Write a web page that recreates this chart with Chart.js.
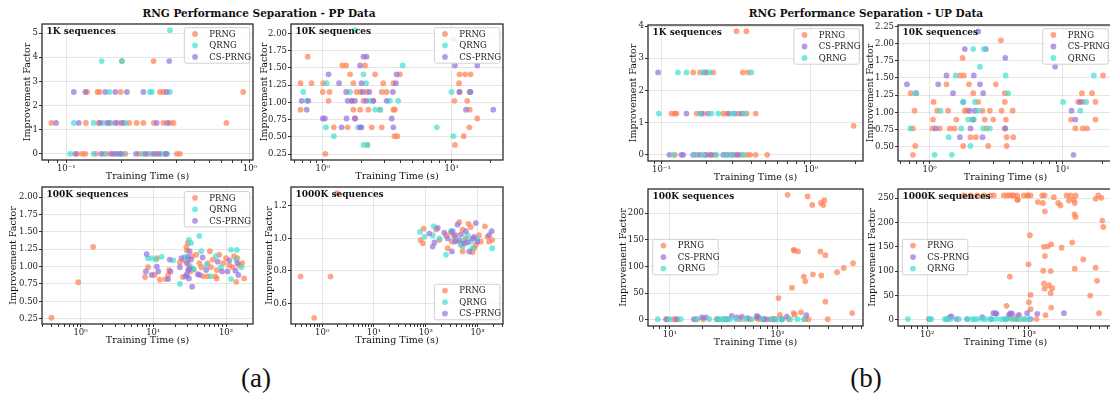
<!DOCTYPE html>
<html>
<head>
    <script src="https://cdn.jsdelivr.net/npm/chart.js@4.4.0/dist/chart.umd.min.js"></script>
    <style>
    body {
        margin: 0;
        background: #fff;
        width: 1110px;
        height: 396px;
        overflow: hidden;
        position: relative;
        font-family: "DejaVu Serif", serif;
    }
    .suptitle {
        position: absolute;
        transform: translate(-50%, -50%);
        font-weight: bold;
        font-size: 10.5px;
        color: #111;
        white-space: nowrap;
    }
    .sub {
        position: absolute;
        transform: translate(-50%, -50%);
        font-family: "Liberation Serif", serif;
        font-size: 27px;
        color: #111;
    }
    .box { position: absolute; }
    </style>
    <title>RNG Performance Separation</title>
</head>
<body>

<div class="suptitle" style="left:259px; top:13px;">RNG Performance Separation - PP Data</div>
<div class="suptitle" style="left:866px; top:13px;">RNG Performance Separation - UP Data</div>
<div class="sub" style="left:256px; top:378px;">(a)</div>
<div class="sub" style="left:866px; top:378px;">(b)</div>

<script>
// ---- data: [training time (s), improvement factor] ----
// PP data
const pp1kPRNG = [[0.083,1.28],[0.128,1.28],[0.150,1.28],[0.172,1.28],[0.190,1.28],[0.205,1.28],[0.220,1.28],[0.242,1.28],[0.263,1.28],[0.300,1.28],[0.338,1.28],[0.367,1.28],[0.384,1.28],[0.745,1.28],
    [0.130,2.56],[0.148,2.56],[0.152,2.56],[0.198,2.56],[0.324,2.56],[0.338,2.56],[0.920,2.56],[0.201,3.84],[0.299,3.84],
    [0.115,0],[0.122,0],[0.127,0],[0.145,0],[0.165,0],[0.180,0],[0.195,0],[0.210,0],[0.250,0],[0.280,0],[0.310,0],[0.345,0],[0.400,0],[0.416,0]];
const pp1kQRNG = [[0.110,1.28],[0.141,1.28],[0.160,1.28],[0.175,1.28],[0.210,1.28],[0.172,2.56],[0.286,2.56],[0.292,2.56],[0.367,2.56],
    [0.156,3.84],[0.201,3.84],[0.367,5.12],[0.105,0],[0.141,0],[0.160,0],[0.190,0],[0.205,0],[0.262,0],[0.290,0],[0.330,0],[0.355,0]];
const pp1kCS = [[0.088,1.28],[0.117,1.28],[0.153,1.28],[0.168,1.28],[0.185,1.28],[0.200,1.28],[0.311,1.28],[0.355,1.28],
    [0.110,2.56],[0.127,2.56],[0.163,2.56],[0.185,2.56],[0.214,2.56],[0.263,2.56],[0.352,2.56],[0.364,3.84],
    [0.112,0],[0.155,0],[0.175,0],[0.185,0],[0.198,0],[0.240,0],[0.270,0],[0.300,0],[0.320,0],[0.350,0]];

const pp10kPRNG = [[0.765,1.664],[0.673,1.28],[0.82,1.28],[1.01,1.28],[1.42,1.536],[1.52,1.536],[1.63,1.408],[1.73,1.28],[2.13,1.536],[2.55,1.408],[2.95,1.28],[3.53,1.28],[3.97,1.408],
    [1.0,1.152],[1.13,1.152],[1.83,1.152],[1.95,1.152],[2.19,1.152],[2.87,1.152],[3.13,1.152],[1.11,1.024],[1.68,1.024],[2.07,1.024],[2.47,1.024],
    [0.673,0.896],[1.73,0.896],[1.95,0.896],[2.26,0.896],[2.78,0.896],[3.53,0.896],[3.63,0.896],[1.78,0.768],[1.22,0.64],[1.56,0.64],[2.4,0.64],[2.87,0.64],
    [3.6,0.512],[3.79,0.512],[2.22,0.384],[1.05,0.256],[10.3,1.92],[11.5,1.408],[12.7,1.408],[14.0,1.408],[11.4,1.28],[11.5,1.152],[13.8,1.152],
    [10.5,1.024],[13.2,1.024],[13.8,0.896],[15.8,0.768],[13.7,0.64],[12.4,0.512],[10.6,0.384]];
const pp10kQRNG = [[0.708,1.152],[1.074,1.28],[1.06,0.64],[1.22,0.512],[1.63,1.152],[1.88,0.64],[2.07,1.408],[2.07,0.384],[2.22,0.384],[1.78,2.048],
    [2.33,1.024],[2.55,0.896],[2.8,0.896],[3.32,1.024],[3.85,1.024],[4.17,1.536],[2.17,1.28],[7.66,0.64],[9.97,1.152],[10.3,0.512],[13.8,1.152],[0.752,1.024]];
const pp10kCS = [[1.11,1.408],[1.34,1.28],[1.52,1.152],[1.56,1.024],[1.68,1.024],[1.78,1.024],[1.95,1.536],[2.0,1.28],[2.07,1.664],[2.19,1.664],[2.04,1.152],
    [2.17,1.024],[2.3,1.152],[2.47,1.024],[3.13,1.024],[3.5,1.152],[3.74,1.408],[3.7,1.28],[3.43,0.768],[3.53,0.64],[1.53,0.768],[1.78,0.768],[1.95,0.64],
    [2.0,0.64],[1.0,0.768],[1.04,0.768],[1.4,0.64],[0.752,0.896],[0.687,1.024],[0.774,1.024],[10.6,1.536],[15.8,1.536],[11.5,1.152],[14.0,1.152],[12.9,0.896],[21.0,0.896]];

const pp100kPRNG = [[0.398,0.264],[0.93,0.774],[1.49,1.284],[7.7,0.85],[8.5,0.99],[10.4,0.88],[12.3,0.81],[11.2,1.12],[14.7,0.82],[16,0.88],[16.5,0.95],[23.2,1.06],
    [25.6,0.85],[27,1.09],[28.5,1.28],[29,1.23],[29.9,1.34],[30.9,1.02],[32.5,0.93],[34.2,1.15],[35.8,0.96],[39,1.17],[43,1.05],[45.6,0.99],[48.9,0.86],[56,1.05],
    [60,1.22],[62,0.99],[65.8,1.10],[71.5,0.86],[74.6,0.95],[81,1.17],[91.7,1.05],[100,1.12],[111,1.02],[123,0.99],[129,1.15],[138,0.78],[143,1.12],[152,1.02],
    [167,1.05],[178,0.83],[74.6,0.83],[56,0.86]];
const pp100kQRNG = [[8.4,1.12],[9.5,1.12],[10.9,1.10],[13,1.14],[18.8,1.09],[23.2,0.75],[27,1.14],[30.9,1.385],[33,1.34],[36,0.96],[43,1.44],[45.6,1.22],
    [53.4,1.02],[62,0.86],[72.7,1.15],[85,0.99],[117,1.24],[117,0.82],[141,1.24],[163,0.99],[138,1.10],[29.9,1.10],[33,0.99]];
const pp100kCS = [[8.1,1.18],[7.9,0.93],[9.5,0.88],[11.2,1.0],[11.7,0.93],[16,0.82],[16.8,1.10],[17.2,0.93],[23.2,0.99],[24.4,1.12],[27.9,0.86],[29,1.05],
    [29.9,1.14],[30.9,0.83],[31.6,1.22],[31.6,0.97],[33,1.10],[34.2,0.71],[40.9,0.89],[47.8,1.13],[53.4,0.95],[43.3,0.88],[77,1.07],[88,0.93],[105,0.93],
    [111,1.09],[135,0.94],[143,1.05],[148,0.88],[30,0.95],[29,0.89]];

const pp1000kPRNG = [[0.383,0.765],[0.70,0.511],[1.45,0.765],[1.94,1.279],[79,0.99],[88,0.97],[91,1.06],[158,1.055],[184,0.99],[246,1.02],[265,0.94],[320,0.98],
    [380,1.02],[443,1.10],[477,0.96],[514,1.055],[594,1.0],[670,1.09],[740,1.07],[797,0.915],[860,0.94],[924,0.96],[1070,1.02],[1150,0.98],[1390,1.075],
    [1550,1.01],[1670,0.98],[1920,0.99],[306,1.035],[514,0.92]];
const pp1000kQRNG = [[77,1.04],[94,1.01],[142,1.075],[136,1.02],[184,1.0],[246,0.90],[306,1.045],[380,0.99],[477,0.97],[514,0.95],[640,1.02],[740,0.98],
    [797,0.94],[990,0.995],[1920,0.94],[550,0.99]];
const pp1000kCS = [[117,1.03],[136,0.95],[147,0.975],[170,1.065],[228,1.035],[265,1.0],[320,0.92],[330,1.045],[370,0.98],[410,1.085],[443,0.99],[477,1.025],
    [550,0.97],[594,1.045],[640,0.975],[690,0.92],[797,1.0],[860,1.01],[924,1.095],[990,0.98],[1670,1.02],[1870,1.045],[355,1.015]];

// UP data
const up1kPRNG = [[0.318,3.84],[0.37,3.84],[0.163,2.56],[0.181,2.56],[0.2,2.56],[0.222,2.56],[0.35,2.56],[0.38,2.56],[0.117,1.28],[0.123,1.28],[0.126,1.28],
    [0.172,1.28],[0.19,1.28],[0.259,1.28],[0.273,1.28],[0.327,1.28],[0.372,1.28],[0.427,1.28],[1.93,0.9],[0.123,0],[0.172,0],[0.195,0],[0.211,0],[0.228,0],
    [0.287,0],[0.318,0],[0.344,0],[0.372,0],[0.392,0],[0.427,0],[0.51,0]];
const up1kCS = [[0.095,2.56],[0.195,2.56],[0.147,1.28],[0.185,1.28],[0.205,1.28],[0.284,1.28],[0.308,1.28],[0.344,1.28],[0.113,0],[0.136,0],[0.14,0],
    [0.163,0],[0.181,0],[0.2,0],[0.216,0],[0.259,0],[0.273,0],[0.303,0],[0.327,0]];
const up1kQRNG = [[0.096,1.28],[0.129,2.56],[0.147,2.56],[0.19,2.56],[0.211,2.56],[0.40,2.56],[0.181,1.28],[0.216,1.28],[0.24,1.28],[0.303,1.28],[0.357,1.28],
    [0.12,0],[0.168,0],[0.19,0],[0.234,0],[0.268,0],[0.295,0],[0.353,0]];

const up10kPRNG = [[0.748,0.768],[0.77,1.024],[0.72,1.28],[0.78,0.512],[0.748,0.384],[1.06,0.896],[1.05,0.768],[1.07,1.152],[1.14,1.024],[1.19,0.768],
    [1.34,1.408],[1.38,1.024],[1.42,0.768],[1.54,0.768],[1.59,0.896],[1.69,1.536],[1.77,1.792],[1.81,1.536],[1.84,1.024],[1.79,0.512],[1.98,1.408],[2.03,0.64],
    [2.13,1.28],[2.23,0.64],[2.15,0.896],[2.32,1.152],[2.5,1.024],[2.6,0.896],[2.68,0.768],[2.76,0.512],[2.84,1.024],[3.01,0.896],[3.15,1.408],[3.44,2.048],
    [3.48,1.024],[3.68,1.28],[3.68,1.152],[3.75,0.896],[3.8,0.64],[3.8,0.512],[4.22,1.024],[4.26,0.64],[3.68,0.768],[1.91,1.024],
    [14.0,1.28],[16.7,1.28],[20.2,1.536],[13.1,1.152],[14.2,1.152],[17.7,1.152],[11.6,0.896],[17.7,0.896],[12.5,0.768],[14.2,0.768],[15.3,0.768]];
const up10kCS = [[0.675,1.408],[0.793,1.28],[1.11,0.768],[1.16,1.408],[1.34,1.536],[1.5,1.28],[1.69,0.64],[1.79,1.152],[1.84,1.92],[2.0,1.024],[2.1,0.896],
    [2.15,1.536],[2.03,0.768],[2.39,1.408],[2.53,1.28],[2.5,0.64],[2.65,1.92],[2.32,2.176],[3.71,1.792],[3.71,0.768],[2.19,1.024],[8.8,1.664],
    [11.7,1.024],[12.5,0.896],[12.1,0.384],[13.6,1.152]];
const up10kQRNG = [[0.715,0.768],[0.78,1.28],[1.09,0.384],[1.21,1.024],[1.39,0.64],[1.47,0.384],[1.57,1.536],[1.73,0.768],[1.79,1.152],[1.95,0.896],
    [2.03,0.512],[2.13,1.92],[2.13,0.896],[2.19,1.152],[2.39,1.664],[2.32,1.024],[2.53,0.768],[2.56,1.92],[2.84,0.768],[3.73,1.536],[3.9,1.28],
    [10.1,1.152],[13.6,1.024],[17.2,1.536],[15.1,1.152]];

const up100kPRNG = [[124,234],[190,231],[210,215],[253,219],[272,224],[266,215],[141,131],[143,130],[155,128],[250,128],[278,121],[136,60],[175,81],[181,72],
    [213,85],[255,83],[357,89],[412,97],[503,106],[102,40.6],[278,34],[494,12.5],[292,1.2],[105,9],[141,12.5],[144,9.4],[165,14],[9.4,1],[10.7,1],[11.7,1],
    [17.5,1],[20.4,1],[27.2,1],[31.4,1],[34.2,1],[44.8,1],[54.9,1],[64,3],[66.5,1],[74,1],[85.5,1],[90.6,1],[95,1],[110,1],[127,1],[181,1],[194,1]];
const up100kCS = [[9.2,1],[11.4,1],[16.7,1],[19.8,4.4],[21.6,4.4],[28.2,1],[37.5,7.5],[41.8,4.4],[46.6,6],[52.5,3],[64.1,7.5],[66.5,5],[78.4,1],[91.7,1],
    [110,1],[122,6],[185,8.8],[74,1],[33.2,1]];
const up100kQRNG = [[7.7,1],[9.86,1],[12.6,1],[17.9,1],[23.2,1],[27.2,1],[30.3,1],[32,1],[36.2,1],[41.2,1],[49.9,1],[57.6,1],[71.4,1],[88.4,1],[110,1],
    [131,1],[153,1],[175,1],[98.6,1],[32.6,1]];

const up1000kPRNG = [[229,255.5],[267,255.5],[310,255.5],[361,255.5],[420,255.5],[452,255.5],[567,255.5],[650,255.5],[711,255.5],[769,255.5],[892,255.5],
    [977,255.5],[769,246.6],[613,255.5],[687,255.5],[780,246.6],[964,255.5],[1040,255.5],[1227,242],[1355,255.5],[1429,255.5],[1375,240],[1439,223],
    [1762,252],[1945,240],[2051,235],[2350,255.5],[2570,255.5],[2880,255.5],[2773,246.6],[2830,240],[2477,245],[2820,216.6],[2880,211],[4540,248.6],
    [4820,255.5],[5160,250.7],[5280,204],[5400,190.7],[1024,173.7],[1406,150],[1540,151],[1660,155],[2100,148],[2670,159],[1439,131],[3430,124],
    [2830,105],[4540,107],[993,114],[650,88.6],[1386,100.8],[1640,100],[4690,80],[1406,75],[1580,71],[1700,65],[1429,64],[1640,54.5],[1040,51],
    [4010,49.7],[1001,36],[604,28.6],[1660,25],[1040,21.8],[1460,9.5],[1190,1.4],[4910,13.6],[660,3.4],[711,1.4],[892,1.4],[769,6.8]];
const up1000kCS = [[103.8,1.4],[157,1.4],[167,5.4],[173,6.8],[247,1.4],[348,5.4],[426,1.4],[448,13.6],[470,13.6],[481,12.3],[636,10.2],[660,13.6],
    [685,12.3],[769,1.4],[800,10.2],[963,13.6],[1040,1.4],[1210,12.3],[2213,13.6],[589,1.4],[195,1.4]];
const up1000kQRNG = [[64.5,1.4],[106,1.4],[110,1.4],[149,1.4],[157,1.4],[170,1.4],[205,1.4],[247,1.4],[277,1.4],[292,1.4],[310,1.4],[348,1.4],[375,1.4],
    [420,1.4],[470,1.4],[526,1.4],[567,1.4],[611,1.4],[685,1.4],[769,1.4],[829,1.4],[927,1.4],[1000,1.4]];

// tick values
const yTicksPP1k = [0, 1, 2, 3, 4, 5];
const yTicksPP10k = [0.25, 0.5, 0.75, 1.0, 1.25, 1.5, 1.75, 2.0];
const yTicksPP1000k = [0.6, 0.8, 1.0, 1.2];
const yTicksUP1k = [0, 1, 2, 3, 4];
const yTicksUP10k = [0.5, 0.75, 1.0, 1.25, 1.5, 1.75, 2.0, 2.25];
const yTicksUP100k = [0, 50, 100, 150, 200];
const yTicksUP1000k = [0, 50, 100, 150, 200, 250];

const colors = {
    'PRNG': 'rgba(255,127,80,0.7)',
    'QRNG': 'rgba(64,224,208,0.7)',
    'CS-PRNG': 'rgba(147,112,219,0.7)'
};

// layout of each panel (page px)
const L = 45, T = 8, R = 8, B = 30;
const panels = [
    {rect:[42,24,253,160], x:[0.0738,1.04], y:[-0.256,5.376], yt:yTicksPP1k, dec:0, label:'1K sequences',
     series:[['PRNG',pp1kPRNG],['QRNG',pp1kQRNG],['CS-PRNG',pp1kCS]], leg:[184.3,27.7], yTitleX:27.3},
    {rect:[291,24,503,160], x:[0.568,25], y:[0.166,2.138], yt:yTicksPP10k, dec:2, label:'10K sequences',
     series:[['PRNG',pp10kPRNG],['QRNG',pp10kQRNG],['CS-PRNG',pp10kCS]], leg:[434.3,27.7], yTitleX:265},
    {rect:[42,187,253,324], x:[0.295,235], y:[0.174,2.144], yt:yTicksPP10k, dec:2, label:'100K sequences',
     series:[['PRNG',pp100kPRNG],['QRNG',pp100kQRNG],['CS-PRNG',pp100kCS]], leg:[184.3,191.5], yTitleX:13.3},
    {rect:[291,187,503,324], x:[0.25,3100], y:[0.473,1.317], yt:yTicksPP1000k, dec:1, label:'1000K sequences',
     series:[['PRNG',pp1000kPRNG],['QRNG',pp1000kQRNG],['CS-PRNG',pp1000kCS]], leg:[434.3,284.3], yTitleX:269.3},
    {rect:[648,25,863,161], x:[0.0813,2.23], y:[-0.192,4.032], yt:yTicksUP1k, dec:0, label:'1K sequences',
     series:[['PRNG',up1kPRNG],['CS-PRNG',up1kCS],['QRNG',up1kQRNG]], leg:[793.8,28.7], yTitleX:633.3},
    {rect:[898,25,1113,161], x:[0.578,24], y:[0.294,2.27], yt:yTicksUP10k, dec:2, label:'10K sequences',
     series:[['PRNG',up10kPRNG],['CS-PRNG',up10kCS],['QRNG',up10kQRNG]], leg:[1042.7,28.7], yTitleX:870.7},
    {rect:[648,189,863,326], x:[6.25,622], y:[-11.65,245], yt:yTicksUP100k, dec:0, label:'100K sequences',
     series:[['PRNG',up100kPRNG],['CS-PRNG',up100kCS],['QRNG',up100kQRNG]], leg:[652.7,239.3], yTitleX:623.3},
    {rect:[898,189,1113,326], x:[51.6,6730], y:[-12.8,268.8], yt:yTicksUP1000k, dec:0, label:'1000K sequences',
     series:[['PRNG',up1000kPRNG],['CS-PRNG',up1000kCS],['QRNG',up1000kQRNG]], leg:[902.3,239.3], yTitleX:872.7}
];

const SUP = {'-':'\u207B','0':'\u2070','1':'\u00B9','2':'\u00B2','3':'\u00B3'};
function isPow10(v) {
    const l = Math.log10(v);
    return Math.abs(l - Math.round(l)) < 1e-9;
}
function powLabel(v) {
    const e = String(Math.round(Math.log10(v)));
    return '10' + e.split('').map(c => SUP[c]).join('');
}
// major and minor log ticks inside [min, max]
function logTicks(min, max) {
    const out = [];
    for (let k = Math.floor(Math.log10(min)); k <= Math.ceil(Math.log10(max)); k++) {
        for (let m = 1; m <= 9; m++) {
            const v = m * Math.pow(10, k);
            if (v >= min && v <= max) out.push({value: v});
        }
    }
    return out;
}

const decor = {
    id: 'decor',
    afterDraw(chart) {
        const p = chart.options.plugins.decor;
        const ctx = chart.ctx, a = chart.chartArea;
        ctx.save();
        ctx.strokeStyle = '#2b2b2b';
        ctx.lineWidth = 1.3;
        ctx.strokeRect(a.left, a.top, a.right - a.left, a.bottom - a.top);

        ctx.fillStyle = '#111';
        ctx.textBaseline = 'middle';
        ctx.font = 'bold 9px "DejaVu Serif"';
        ctx.textAlign = 'left';
        ctx.fillText(p.label, a.left + 4.5, a.top + 7.5);

        ctx.font = '9.5px "DejaVu Serif"';
        ctx.textAlign = 'center';
        ctx.fillText('Training Time (s)', (a.left + a.right) / 2, a.bottom + 16.5);
        ctx.save();
        ctx.translate(p.yTitleX - p.ox, (a.top + a.bottom) / 2);
        ctx.rotate(-Math.PI / 2);
        ctx.fillText('Improvement Factor', 0, 0);
        ctx.restore();

        // legend box
        const lx = p.leg[0] - p.ox, ly = p.leg[1] - p.oy, lw = 65.5, lh = 35.5;
        ctx.beginPath();
        ctx.roundRect(lx, ly, lw, lh, 2);
        ctx.fillStyle = 'rgba(255,255,255,0.8)';
        ctx.fill();
        ctx.strokeStyle = 'rgba(204,204,204,0.9)';
        ctx.lineWidth = 1;
        ctx.stroke();
        ctx.font = '8.5px "DejaVu Serif"';
        ctx.textAlign = 'left';
        p.names.forEach((n, i) => {
            const ry = ly + 6.3 + i * 11.5;
            ctx.beginPath();
            ctx.arc(lx + 10.7, ry, 2.9, 0, Math.PI * 2);
            ctx.fillStyle = colors[n];
            ctx.fill();
            ctx.fillStyle = '#222';
            ctx.fillText(n, lx + 25, ry + 0.5);
        });
        ctx.restore();
    }
};

panels.forEach((p, idx) => {
    const [x0, y0, x1, y1] = p.rect;
    const w = x1 - x0 + L + R, h = y1 - y0 + T + B;
    const ox = x0 - L, oy = y0 - T;
    const div = document.createElement('div');
    div.className = 'box';
    div.style.left = ox + 'px';
    div.style.top = oy + 'px';
    div.style.width = w + 'px';
    div.style.height = h + 'px';
    const cv = document.createElement('canvas');
    cv.width = w; cv.height = h;
    cv.style.width = w + 'px'; cv.style.height = h + 'px';
    div.appendChild(cv);
    document.body.appendChild(div);

    // last series is drawn on top: Chart.js paints dataset 0 last
    const datasets = p.series.slice().reverse().map(([name, pts]) => ({
        label: name,
        data: pts.map(([x, y]) => ({x: x, y: y})),
        backgroundColor: colors[name],
        borderWidth: 0,
        pointRadius: 2.9,
        pointHoverRadius: 2.9
    }));

    new Chart(cv.getContext('2d'), {
        type: 'scatter',
        data: {datasets: datasets},
        options: {
            responsive: false,
            animation: false,
            events: [],
            layout: {padding: {top: T, right: R, left: 0, bottom: 0}},
            scales: {
                x: {
                    type: 'logarithmic',
                    min: p.x[0], max: p.x[1],
                    afterBuildTicks: s => { s.ticks = logTicks(p.x[0], p.x[1]); },
                    afterFit: s => { s.height = B; },
                    ticks: {
                        autoSkip: false, maxRotation: 0, minRotation: 0, padding: 1,
                        color: '#222', font: {family: 'DejaVu Serif', size: 8.5},
                        callback: v => isPow10(v) ? powLabel(v) : ''
                    },
                    grid: {
                        color: c => (c.tick && isPow10(c.tick.value)) ? 'rgba(0,0,0,0.1)' : 'rgba(0,0,0,0)',
                        tickColor: '#333', tickLength: 3
                    },
                    border: {display: false}
                },
                y: {
                    min: p.y[0], max: p.y[1],
                    afterBuildTicks: s => { s.ticks = p.yt.map(v => ({value: v})); },
                    afterFit: s => { s.width = L; },
                    ticks: {
                        autoSkip: false, padding: 1,
                        color: '#222', font: {family: 'DejaVu Serif', size: 8.5},
                        callback: v => Number(v).toFixed(p.dec)
                    },
                    grid: {color: 'rgba(0,0,0,0.1)', tickColor: '#333', tickLength: 3},
                    border: {display: false}
                }
            },
            plugins: {
                legend: {display: false},
                tooltip: {enabled: false},
                decor: {label: p.label, yTitleX: p.yTitleX, leg: p.leg, ox: ox, oy: oy,
                        names: p.series.map(s => s[0])}
            }
        },
        plugins: [decor]
    });
});
</script>
</body>
</html>
